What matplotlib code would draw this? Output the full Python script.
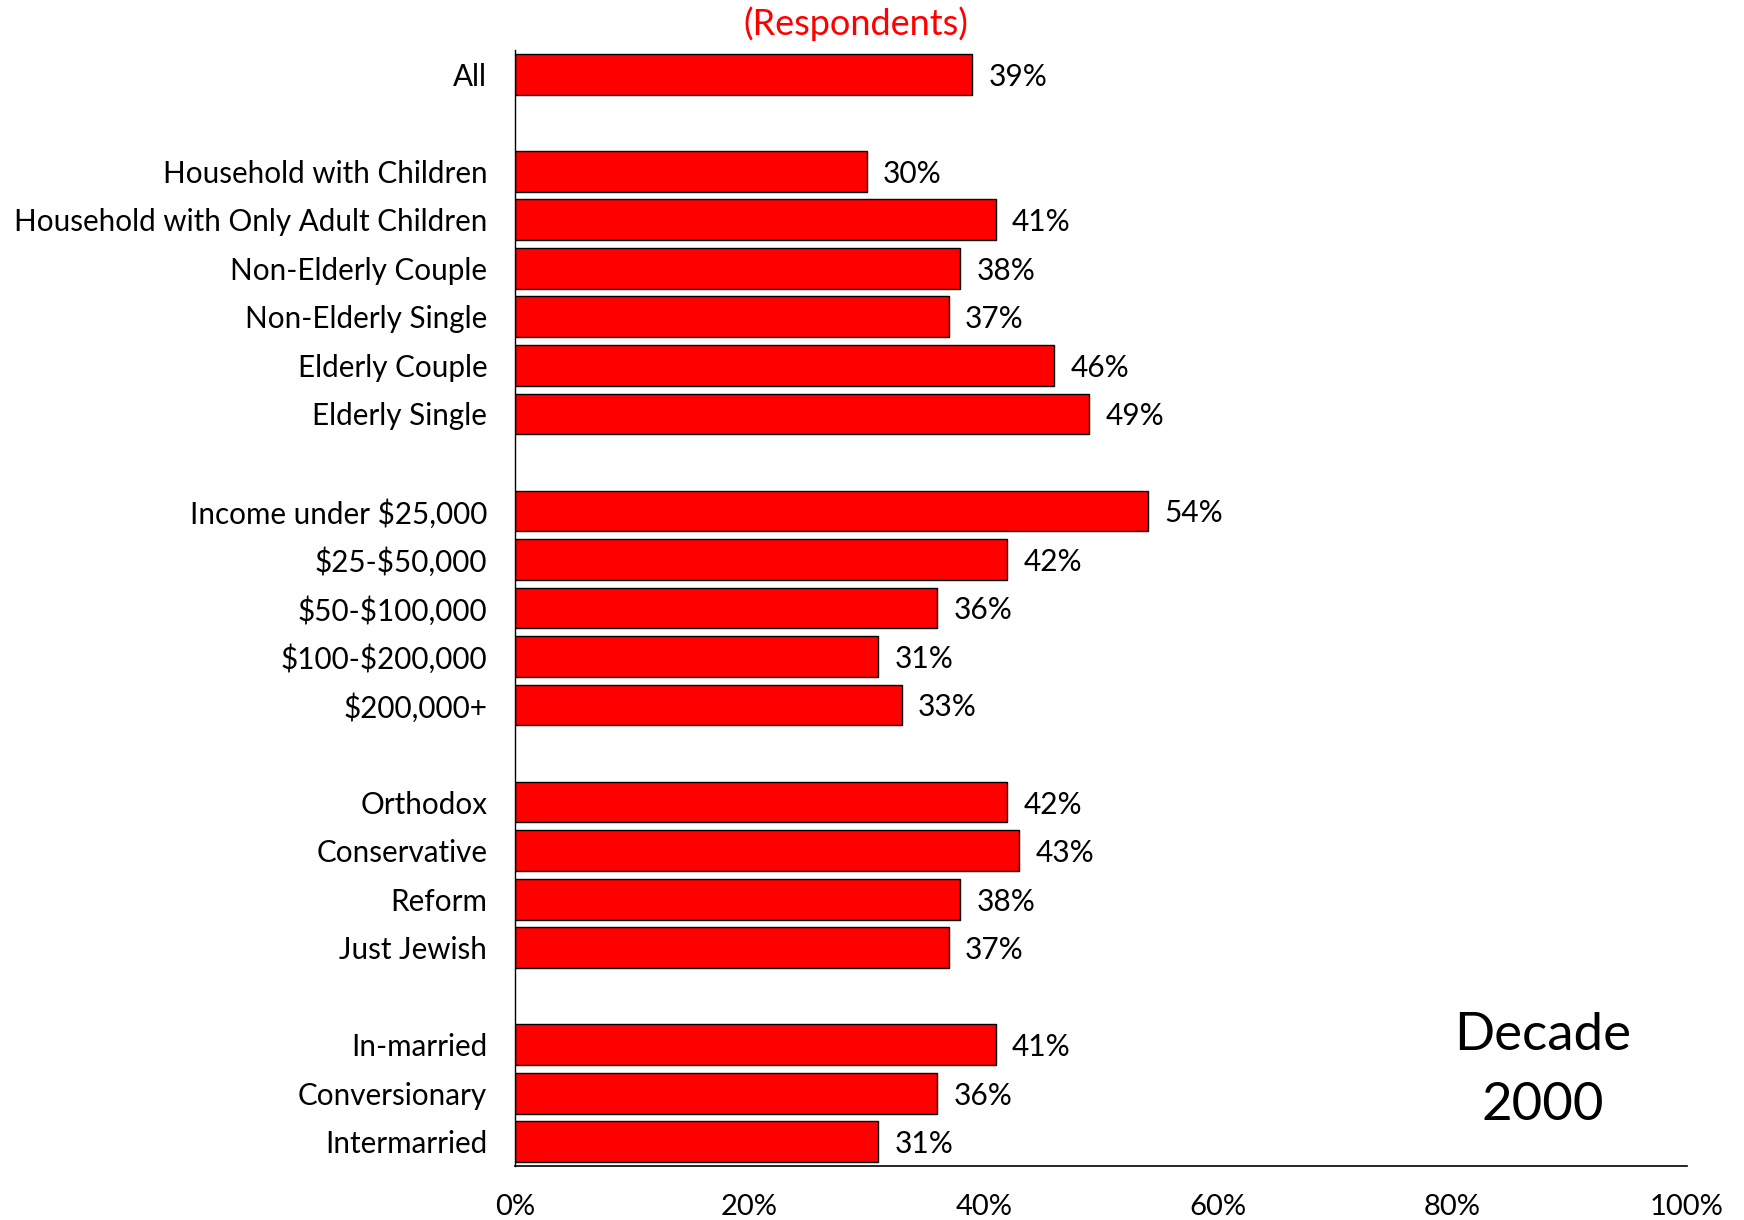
import numpy as np
import matplotlib
matplotlib.use("Agg")
import matplotlib.pyplot as plt

plt.rcParams['font.family'] = ['Lato', 'DejaVu Sans']

# categories, None marks a blank gap row
labels = ["All", None,
          "Household with Children", "Household with Only Adult Children",
          "Non-Elderly Couple", "Non-Elderly Single", "Elderly Couple", "Elderly Single", None,
          r"Income under \$25,000", r"\$25-\$50,000", r"\$50-\$100,000", r"\$100-\$200,000", r"\$200,000+", None,
          "Orthodox", "Conservative", "Reform", "Just Jewish", None,
          "In-married", "Conversionary", "Intermarried"]
values = [39, None,
          30, 41, 38, 37, 46, 49, None,
          54, 42, 36, 31, 33, None,
          42, 43, 38, 37, None,
          41, 36, 31]
xticks = [0, 20, 40, 60, 80, 100]

fig = plt.figure(figsize=(17.44, 12.2), dpi=100)
ax = fig.add_axes([515/1744, 1 - 1166/1220, (1687-515)/1744, (1166-50)/1220])

pos = [i for i, v in enumerate(values) if v is not None]
vals = [v for v in values if v is not None]
ax.barh(pos, vals, height=0.84, color='#ff0000', edgecolor='black', linewidth=1)
for p, v in zip(pos, vals):
    ax.text(v + 1.4, p + 0.05, f"{v}%", va='center', ha='left', fontsize=21.5)

ax.set_yticks(pos)
ax.set_yticklabels([l for l in labels if l is not None], fontsize=21.3)
ax.set_ylim(len(values) - 0.5, -0.5)
ax.set_xlim(0, 100)
ax.set_xticks(xticks)
ax.set_xticklabels([f"{t}%" for t in xticks], fontsize=21)
ax.tick_params(axis='both', length=0)
ax.tick_params(axis='x', pad=20)
ax.tick_params(axis='y', pad=20)
for s in ['top', 'right']:
    ax.spines[s].set_visible(False)
ax.spines['left'].set_linewidth(1)
ax.spines['bottom'].set_linewidth(1.2)

fig.text(856/1744, 1 - 24/1220, "(Respondents)", color='#ff0000', fontsize=26, ha='center', va='center')
fig.text(1543/1744, 1 - 1036/1220, "Decade", fontsize=38, ha='center', va='center')
fig.text(1543/1744, 1 - 1106/1220, "2000", fontsize=38, ha='center', va='center')

fig.savefig("out.png", dpi=100)
